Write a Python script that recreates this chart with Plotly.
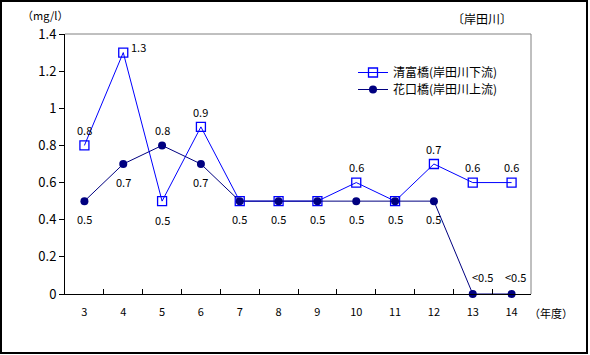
import plotly.graph_objects as go

years = ["3", "4", "5", "6", "7", "8", "9", "10", "11", "12", "13", "14"]
s1_name = "清富橋(岸田川下流)"
s1_values = [0.8, 1.3, 0.5, 0.9, 0.5, 0.5, 0.5, 0.6, 0.5, 0.7, 0.6, 0.6]
s1_labels = ["0.8", "1.3", "0.5", "0.9", "", "", "", "0.6", "", "0.7", "0.6", "0.6"]
s2_name = "花口橋(岸田川上流)"
s2_values = [0.5, 0.7, 0.8, 0.7, 0.5, 0.5, 0.5, 0.5, 0.5, 0.5, 0.0, 0.0]
s2_labels = ["0.5", "0.7", "0.8", "0.7", "0.5", "0.5", "0.5", "0.5", "0.5", "0.5", "<0.5", "<0.5"]

# label offsets (style, pixels)
s1_off = [(0, 15), (15, 6), (0, -19), (0, 15), (0, 15), (0, 15), (0, 15), (0, 16), (0, 15), (0, 15), (0, 16), (0, 16)]
s2_off = [(0, -18), (0, -18), (0, 15), (0, -18), (0, -18), (0, -18), (0, -18), (0, -18), (0, -18), (0, -18), (10, 17), (4, 17)]

FONT = "Noto Sans CJK JP"
W, H = 590, 355
L, R, T, B = 65, 59, 34, 61
pw, ph = W - L - R, H - T - B

fig = go.Figure()
fig.add_trace(go.Scatter(
    x=years, y=s1_values, name=s1_name, mode="lines+markers",
    line=dict(color="#0000FF", width=1),
    marker=dict(symbol="square-open", size=9, color="#0000FF", line=dict(width=1.3)),
    cliponaxis=False, legend="legend",
))
fig.add_trace(go.Scatter(
    x=years, y=s2_values, name=s2_name, mode="lines+markers",
    line=dict(color="#000080", width=1),
    marker=dict(symbol="circle", size=8, color="#000080"),
    cliponaxis=False, legend="legend2",
))

def px2x(p):
    return (p - L) / pw

def py2y(p):
    return (H - B - p) / ph

shapes = [
    dict(type="line", xref="paper", yref="paper", x0=0, x1=1, y0=1, y1=1, line=dict(color="#808080", width=1)),
    dict(type="line", xref="paper", yref="paper", x0=1, x1=1, y0=0, y1=1, line=dict(color="#808080", width=1)),
    dict(type="rect", xref="paper", yref="paper", x0=px2x(1), x1=px2x(587), y0=py2y(353), y1=py2y(1),
         line=dict(color="black", width=2)),
]

annotations = []
for ys, labs, offs in ((s1_values, s1_labels, s1_off), (s2_values, s2_labels, s2_off)):
    for i, (yv, lab, (dx, dy)) in enumerate(zip(ys, labs, offs)):
        if lab:
            annotations.append(dict(text=lab, x=i, y=yv, xref="x", yref="y", showarrow=False,
                                    xshift=dx, yshift=dy, xanchor="center", yanchor="middle",
                                    font=dict(size=11, family=FONT, color="black")))

annotations += [
    dict(text="（mg/l）", xref="paper", yref="paper", x=px2x(45), y=py2y(15), showarrow=False,
         xanchor="center", yanchor="middle", font=dict(size=11, family=FONT, color="black")),
    dict(text="〔岸田川〕", xref="paper", yref="paper", x=px2x(482), y=py2y(18), showarrow=False,
         xanchor="center", yanchor="middle", font=dict(size=12, family=FONT, color="black")),
    dict(text="（年度）", xref="paper", yref="paper", x=px2x(551), y=py2y(313), showarrow=False,
         xanchor="center", yanchor="middle", font=dict(size=11, family=FONT, color="black")),
]

leg_common = dict(xanchor="left", yanchor="top", bgcolor="rgba(0,0,0,0)",
                  font=dict(size=12, family=FONT), itemwidth=30)

fig.update_layout(
    width=W, height=H, margin=dict(l=L, r=R, t=T, b=B),
    paper_bgcolor="white", plot_bgcolor="white",
    font=dict(family=FONT, size=12, color="black"),
    showlegend=True,
    legend=dict(x=px2x(353), y=py2y(58), **leg_common),
    legend2=dict(x=px2x(353), y=py2y(75), **leg_common),
    shapes=shapes, annotations=annotations,
    xaxis=dict(type="category", range=[-0.5, len(years) - 0.5], autorange=False,
               showgrid=False, showline=True, linecolor="black", linewidth=1,
               ticks="inside", tickson="boundaries", ticklen=5, tickcolor="black",
               ticklabelstandoff=8, tickfont=dict(size=11), zeroline=False),
    yaxis=dict(range=[0, 1.4], dtick=0.2, showgrid=False, showline=True, linecolor="black", linewidth=1,
               ticks="outside", ticklen=5, tickcolor="black", tickfont=dict(size=13), zeroline=False),
)

fig.write_html("out.html", config={"displayModeBar": False},
               post_script="document.body.style.margin='0';document.body.style.overflow='hidden';")
